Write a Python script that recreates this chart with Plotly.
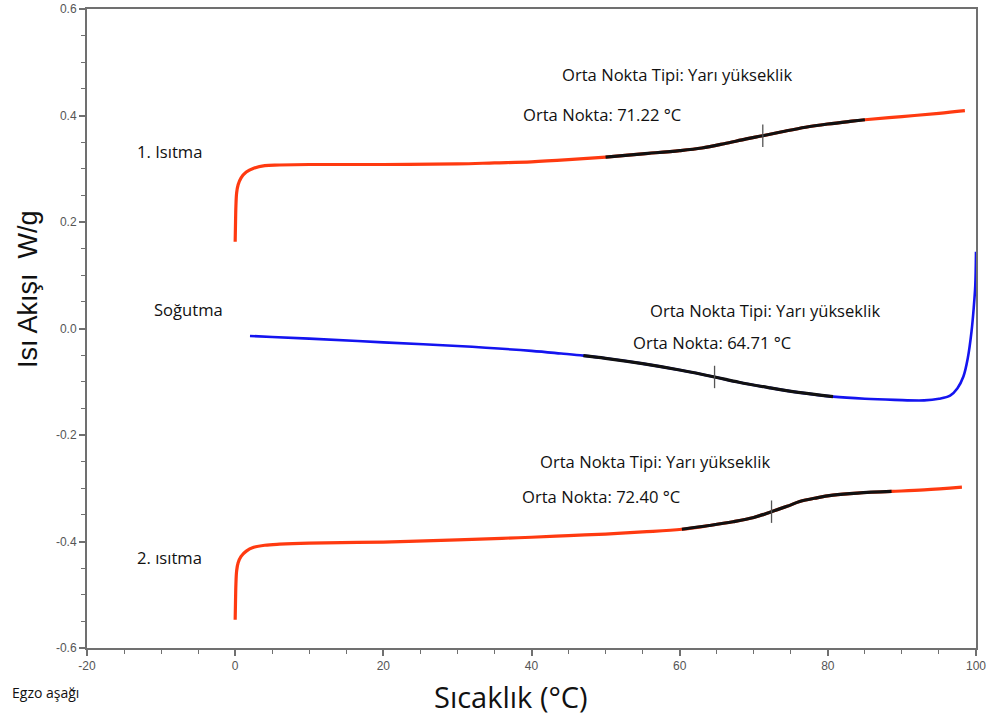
import plotly.graph_objects as go

# ---- data ----
heat1_x = [0, 0.05, 0.1, 0.2, 0.4, 0.8, 1.5, 2.5, 4, 6, 10, 20, 30, 35, 40, 45, 50, 55, 60, 63, 66, 69, 71.22, 74, 77, 80, 83, 85, 90, 95, 98.5]
heat1_y = [0.163, 0.2, 0.23, 0.255, 0.27, 0.283, 0.294, 0.301, 0.306, 0.307, 0.308, 0.308, 0.309, 0.311, 0.313, 0.317, 0.322, 0.328, 0.334, 0.339, 0.347, 0.356, 0.362, 0.37, 0.378, 0.384, 0.389, 0.392, 0.398, 0.404, 0.409]

cool_x = [2, 5, 10, 20, 30, 40, 44, 47, 50, 55, 60, 64.71, 68, 72, 76, 80.7, 85, 89, 93, 95, 96.5, 97.5, 98.3, 98.9, 99.4, 99.7, 99.9, 100]
cool_y = [-0.014, -0.016, -0.019, -0.026, -0.033, -0.042, -0.047, -0.051, -0.056, -0.066, -0.078, -0.091, -0.101, -0.111, -0.12, -0.128, -0.132, -0.134, -0.135, -0.132, -0.126, -0.112, -0.09, -0.055, -0.005, 0.04, 0.08, 0.144]

heat2_x = [0, 0.05, 0.1, 0.2, 0.4, 0.8, 1.5, 2.5, 4, 6, 10, 20, 30, 36, 40, 45, 50, 55, 60.3, 64, 67.2, 70, 72.4, 74.5, 76.2, 78.5, 80.7, 84, 88.6, 93, 98.1]
heat2_y = [-0.547, -0.51, -0.48, -0.455, -0.44, -0.428, -0.418, -0.411, -0.407, -0.405, -0.403, -0.401, -0.397, -0.394, -0.392, -0.389, -0.386, -0.382, -0.377, -0.37, -0.363, -0.355, -0.344, -0.334, -0.325, -0.318, -0.313, -0.309, -0.306, -0.303, -0.298]

# transition analysis ranges (black segments) and midpoints
heat1_range = [50, 85]
cool_range = [47, 80.7]
heat2_range = [60.3, 88.6]
mid_x = [71.22, 64.71, 72.40]
mid_y = [0.362, -0.091, -0.344]

x_ticks = [-20, 0, 20, 40, 60, 80, 100]
x_ticktext = ["-20", "0", "20", "40", "60", "80", "100"]
y_ticks = [-0.6, -0.4, -0.2, 0.0, 0.2, 0.4, 0.6]
y_ticktext = ["-0.6", "-0.4", "-0.2", "0.0", "0.2", "0.4", "0.6"]

RED = "#ff3a10"
BLUE = "#1414f0"
W, H = 993, 722
ML, MR, MT, MB = 87, 17, 9, 74
PW, PH = W - ML - MR, H - MT - MB


def segment(xs, ys, rng):
    pts = [(a, b) for a, b in zip(xs, ys) if rng[0] <= a <= rng[1]]
    return [p[0] for p in pts], [p[1] for p in pts]


def fx(px):
    return (px - ML) / PW


def fy(py):
    return (H - MB - py) / PH


fig = go.Figure()
fig.add_trace(go.Scatter(x=heat1_x, y=heat1_y, mode="lines", line=dict(color=RED, width=3.2, shape="spline"), showlegend=False))
fig.add_trace(go.Scatter(x=cool_x, y=cool_y, mode="lines", line=dict(color=BLUE, width=2.6, shape="spline"), showlegend=False))
fig.add_trace(go.Scatter(x=heat2_x, y=heat2_y, mode="lines", line=dict(color=RED, width=3.2, shape="spline"), showlegend=False))

for xs, ys, rng in [(heat1_x, heat1_y, heat1_range), (cool_x, cool_y, cool_range), (heat2_x, heat2_y, heat2_range)]:
    sx, sy = segment(xs, ys, rng)
    fig.add_trace(go.Scatter(x=sx, y=sy, mode="lines", line=dict(color="#111111", width=3.2, shape="spline"), showlegend=False))

fig.add_trace(go.Scatter(x=mid_x, y=mid_y, mode="markers",
                         marker=dict(symbol="line-ns", size=16, line=dict(color="#555555", width=1.3)),
                         showlegend=False))

TF = dict(family="Open Sans, Noto Sans, sans-serif", size=16.6, color="#111111")
notes = [
    (677, 74, "Orta Nokta Tipi: Yarı yükseklik", "center"),
    (521, 115, "Orta Nokta: 71.22 °C", "left"),
    (135, 151, "1. Isıtma", "left"),
    (152, 309, "Soğutma", "left"),
    (765, 310, "Orta Nokta Tipi: Yarı yükseklik", "center"),
    (631, 342, "Orta Nokta: 64.71 °C", "left"),
    (655, 461, "Orta Nokta Tipi: Yarı yükseklik", "center"),
    (520, 496, "Orta Nokta: 72.40 °C", "left"),
    (135, 557, "2. ısıtma", "left"),
]
for px, py, txt, anc in notes:
    fig.add_annotation(x=fx(px), y=fy(py), xref="paper", yref="paper", text=txt, showarrow=False,
                       xanchor=anc, yanchor="middle", font=TF)

fig.add_annotation(x=fx(10), y=fy(692), xref="paper", yref="paper", text="Egzo aşağı", showarrow=False,
                   xanchor="left", yanchor="middle", font=dict(family="Open Sans, sans-serif", size=14, color="#111111"))
fig.add_annotation(x=fx(511), y=fy(696), xref="paper", yref="paper", text="Sıcaklık (°C)", showarrow=False,
                   xanchor="center", yanchor="middle", font=dict(family="Open Sans, sans-serif", size=29, color="#111111"))
fig.add_annotation(x=fx(28), y=fy(289), xref="paper", yref="paper", text="Isı Akışı  W/g", showarrow=False,
                   textangle=-90, xanchor="center", yanchor="middle",
                   font=dict(family="Liberation Sans, Arial, sans-serif", size=27, color="#111111"))

axis_common = dict(showline=True, linecolor="#707070", linewidth=2, mirror=True, showgrid=False, zeroline=False,
                   automargin=False,
                   ticks="outside", ticklen=6, tickwidth=1.5, tickcolor="#707070",
                   tickfont=dict(family="Liberation Sans, Arial, sans-serif", size=12, color="#555555"))
fig.update_xaxes(range=[-20, 100], tickvals=x_ticks, ticktext=x_ticktext,
                 minor=dict(dtick=5, ticks="outside", ticklen=4, tickcolor="#707070", tickwidth=1.3),
                 **axis_common)
fig.update_yaxes(range=[-0.6, 0.6], tickvals=y_ticks, ticktext=y_ticktext,
                 minor=dict(dtick=0.05, tick0=0, ticks="outside", ticklen=4, tickcolor="#707070", tickwidth=1.3),
                 **axis_common)

fig.update_layout(width=W, height=H, margin=dict(l=ML, r=MR, t=MT, b=MB, pad=0), autosize=False,
                  plot_bgcolor="white", paper_bgcolor="white")
fig.write_html("out.html", config={"displayModeBar": False},
               post_script="document.body.style.margin='0';document.body.style.overflow='hidden';")
